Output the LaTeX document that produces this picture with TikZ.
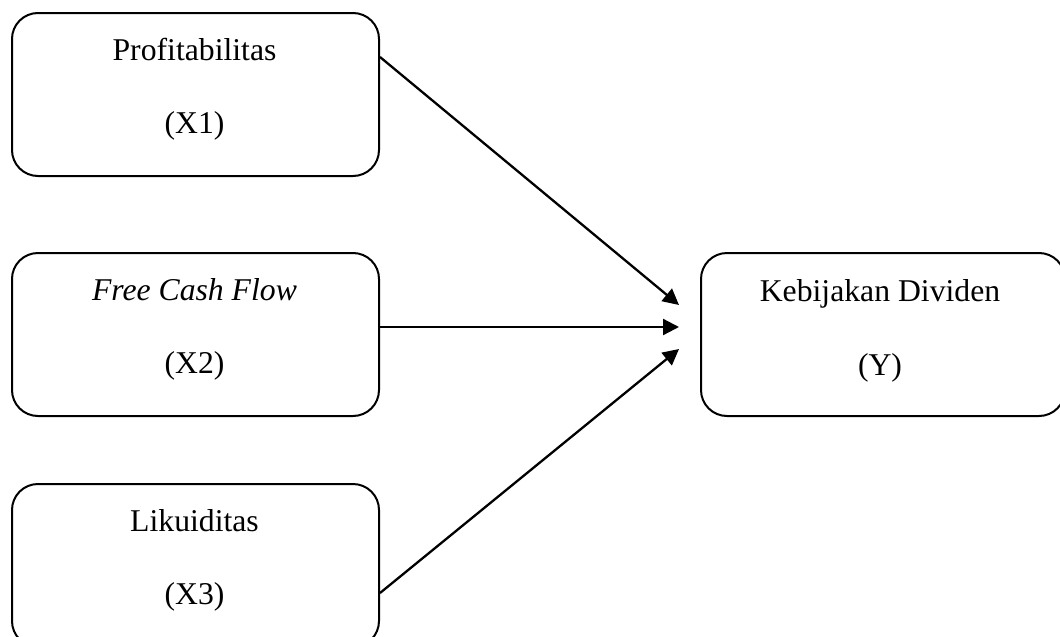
\documentclass[tikz,border=0pt]{standalone}
\usepackage{fontspec}
\setmainfont{Liberation Serif}
\usetikzlibrary{arrows.meta}
\begin{document}
\begin{tikzpicture}[x=1pt,y=-1pt,
  box/.style={draw,line width=2pt,rounded corners=26pt,minimum width=367pt,minimum height=163pt,inner sep=0pt,anchor=north west},
  lbl/.style={font=\fontsize{31.7}{38}\selectfont,anchor=base,inner sep=0pt},
  arr/.style={line width=2.3pt,-{Triangle[length=16pt,width=16pt]}}]
\useasboundingbox (0,0) rectangle (1060,637);
\clip (0,0) rectangle (1060,637);
\node[box] (x1) at (11,12) {};
\node[box] (x2) at (11,252) {};
\node[box] (x3) at (11,483) {};
\node[box,minimum width=364pt] (y) at (700,252) {};
\node[lbl] (x1a) at (194.5,60) {Profitabilitas};
\node[lbl] (x1b) at (194.5,133) {(X1)};
\node[lbl] (x2a) at (194.5,300) {\itshape Free Cash Flow};
\node[lbl] (x2b) at (194.5,373) {(X2)};
\node[lbl] (x3a) at (194.5,531) {Likuiditas};
\node[lbl] (x3b) at (194.5,604) {(X3)};
\node[lbl] (ya) at (880,301) {Kebijakan Dividen};
\node[lbl] (yb) at (880,375) {(Y)};
\coordinate (t1) at ([xshift=-21pt,yshift=29.5pt]y.west);
\coordinate (t2) at ([xshift=-21pt,yshift=7.5pt]y.west);
\coordinate (t3) at ([xshift=-21pt,yshift=-14.5pt]y.west);
\draw[arr] ([yshift=-45pt]x1.north east) -- (t1);
\draw[arr] (x2.east |- t2) -- (t2);
\draw[arr] ([yshift=-110pt]x3.north east) -- (t3);
\end{tikzpicture}
\end{document}
